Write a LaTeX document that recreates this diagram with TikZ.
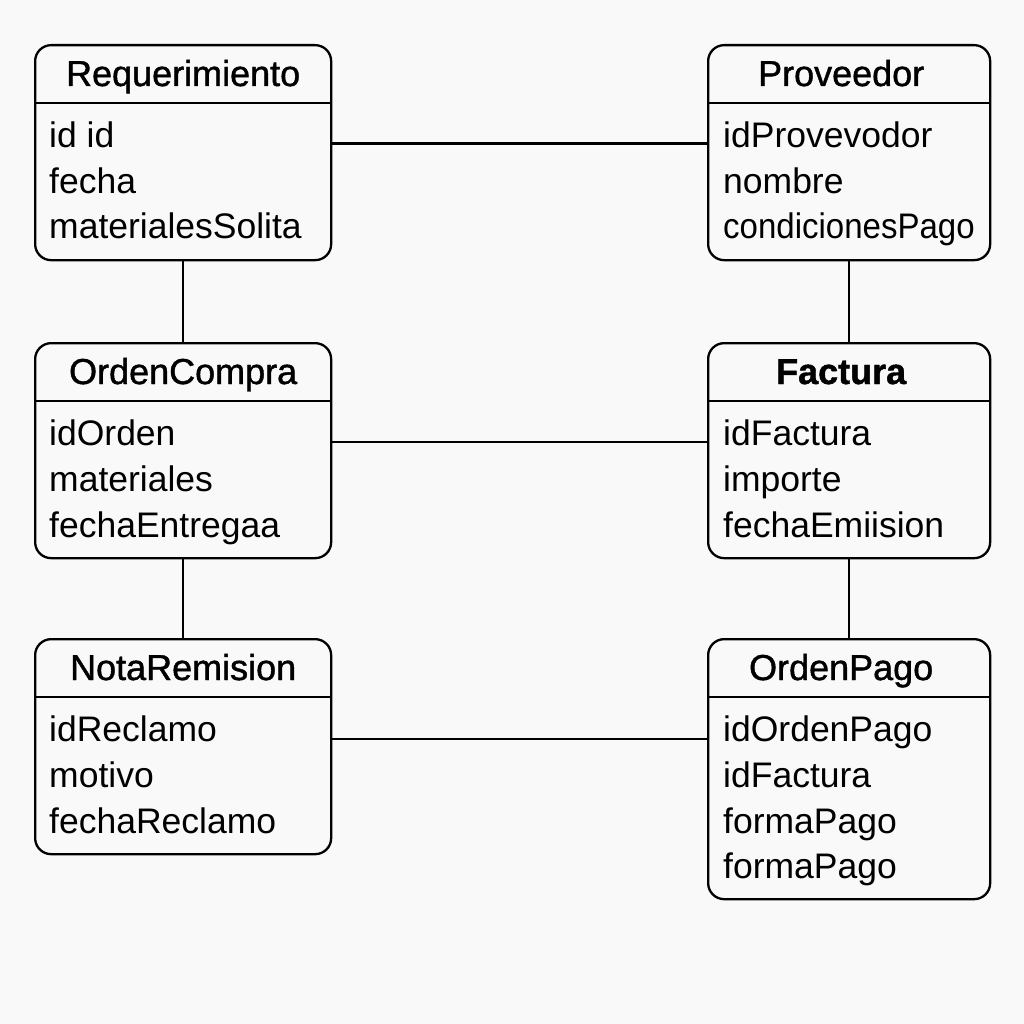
\documentclass[tikz,border=0pt]{standalone}
\usepackage{fontspec}
\setmainfont{Liberation Sans}
\newfontfamily\titlefont[FakeBold=1.2]{Liberation Sans}
\usetikzlibrary{positioning}

\definecolor{paper}{RGB}{249,249,249}

\tikzset{
  classbox/.style={draw=black, line width=2.3pt, rounded corners=16pt, anchor=north west, inner sep=0pt, minimum height=215pt},
  wide/.style={minimum width=296pt},
  narrow/.style={minimum width=282pt},
  title/.style={anchor=base, inner sep=0pt, font=\titlefont\fontsize{36pt}{44pt}\selectfont},
  attr/.style={anchor=base west, inner sep=0pt, font=\fontsize{35.5pt}{44pt}\selectfont},
  link/.style={draw=black, line width=2.3pt}
}

\begin{document}
\begin{tikzpicture}[x=1pt,y=-1pt]

\fill[paper] (0,0) rectangle (1024,1024);
\useasboundingbox (0,0) rectangle (1024,1024);

\node[classbox,wide] (req) at (34,44) {};
\node[classbox,narrow] (prov) at (707,44) {};
\node[classbox,wide] (ocomp) at (34,342) {};
\node[classbox,narrow] (fact) at (707,342) {};
\node[classbox,wide] (nota) at (34,638) {};
\node[classbox,narrow,minimum height=260pt] (pago) at (707,638) {};

\foreach \b in {req,prov,ocomp,fact,nota,pago}
  \draw[link] ([yshift=-59pt]\b.north west) -- ([yshift=-59pt]\b.north east);

\node[title] (reqT) at ([yshift=-42pt]req.north) {Requerimiento};
\node[attr] (reqA) at (49,148) {id id};
\node[attr] (reqB) at (49,194) {fecha};
\node[attr] (reqC) at (49,239) {materialesSolita};

\node[title] (provT) at ([xshift=-8pt,yshift=-42pt]prov.north) {Proveedor};
\node[attr] (provA) at (723,148) {idProvevodor};
\node[attr] (provB) at (723,194) {nombre};
\node[attr] (provC) at (723,239) {\scalebox{0.93}[1]{condicionesPago}};

\node[title] (ocompT) at ([yshift=-42pt]ocomp.north) {OrdenCompra};
\node[attr] (ocompA) at (49,445) {idOrden};
\node[attr] (ocompB) at (49,491) {materiales};
\node[attr] (ocompC) at (49,537) {fechaEntregaa};

\node[title] (factT) at ([xshift=-8pt,yshift=-42pt]fact.north) {\bfseries Factura};
\node[attr] (factA) at (723,445) {idFactura};
\node[attr] (factB) at (723,491) {importe};
\node[attr] (factC) at (723,537) {fechaEmiision};

\node[title] (notaT) at ([yshift=-42pt]nota.north) {NotaRemision};
\node[attr] (notaA) at (49,741) {idReclamo};
\node[attr] (notaB) at (49,787) {motivo};
\node[attr] (notaC) at (49,833) {fechaReclamo};

\node[title] (pagoT) at ([xshift=-8pt,yshift=-42pt]pago.north) {OrdenPago};
\node[attr] (pagoA) at (723,741) {idOrdenPago};
\node[attr] (pagoB) at (723,787) {idFactura};
\node[attr] (pagoC) at (723,833) {formaPago};
\node[attr] (pagoD) at (723,878) {formaPago};

\draw[link] ([yshift=9pt]req.east) -- ([yshift=9pt]prov.west);
\draw[link] ([yshift=9pt]ocomp.east) -- ([yshift=9pt]fact.west);
\draw[link] ([yshift=8pt]nota.east) -- ([yshift=8pt]nota.east -| pago.west);

\draw[link] (req.south) -- (ocomp.north);
\draw[link] (ocomp.south) -- (nota.north);
\draw[link] (prov.south) -- (fact.north);
\draw[link] (fact.south) -- (pago.north);

\end{tikzpicture}
\end{document}
